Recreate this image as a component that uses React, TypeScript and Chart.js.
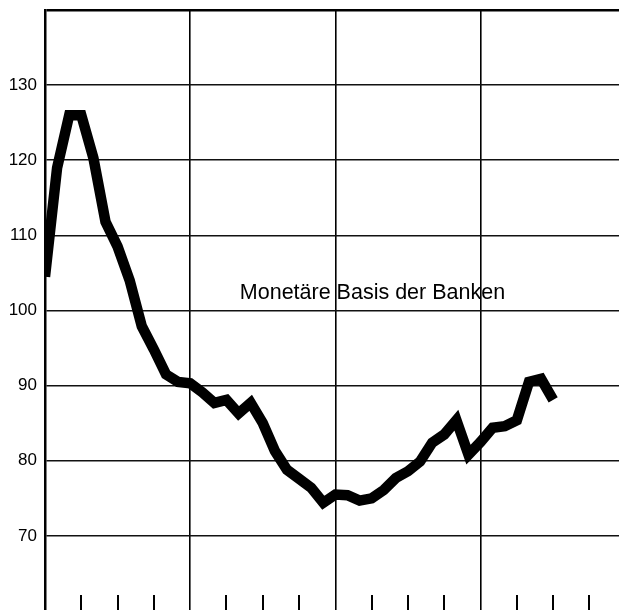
import React, { useEffect, useRef } from "react";
import { Chart, registerables } from "chart.js";

Chart.register(...registerables);

// Monthly index values (month 0 = start of first year)
const seriesValues: number[] = [
  104.5, 119.0, 126.0, 126.0, 120.3, 111.8, 108.5, 104.0, 97.9, 94.8, 91.5, 90.5,
  90.3, 89.1, 87.7, 88.1, 86.3, 87.7, 85.0, 81.3, 78.8, 77.6, 76.4, 74.4,
  75.5, 75.4, 74.7, 75.0, 76.1, 77.7, 78.6, 79.9, 82.4, 83.5, 85.4, 80.8,
  82.5, 84.4, 84.6, 85.4, 90.5, 90.9, 88.1,
];
const yTickLabels: number[] = [70, 80, 90, 100, 110, 120, 130];
const quarterTicks: number[] = [3, 6, 9, 15, 18, 21, 27, 30, 33, 39, 42, 45];
const yearLines: number[] = [12, 24, 36];
const seriesLabel = "Monetäre Basis der Banken";
const labelAt = { x: 16.1, y: 101.5 };

const X_MIN = 0;
const X_MAX = 47.44;
const Y_MIN = 60.13;
const Y_MAX = 140;

export default function App() {
  const ref = useRef<HTMLCanvasElement | null>(null);

  useEffect(() => {
    if (!ref.current) return;
    const points = seriesValues.map((v, i) => ({ x: i, y: v }));

    const extras = {
      id: "extras",
      afterDatasetsDraw(chart: any) {
        const { ctx, scales, chartArea } = chart;
        const xs = scales.x;
        const ys = scales.y;
        ctx.save();
        ctx.strokeStyle = "#000";
        ctx.lineWidth = 2;
        for (const q of quarterTicks) {
          const px = Math.round(xs.getPixelForValue(q));
          ctx.beginPath();
          ctx.moveTo(px, chartArea.bottom);
          ctx.lineTo(px, chartArea.bottom - 15);
          ctx.stroke();
        }
        ctx.fillStyle = "#000";
        ctx.font = '21.5px "Liberation Sans", Arial, sans-serif';
        ctx.textAlign = "left";
        ctx.textBaseline = "alphabetic";
        ctx.fillText(seriesLabel, xs.getPixelForValue(labelAt.x), ys.getPixelForValue(labelAt.y));
        ctx.restore();
      },
    };

    const chart = new Chart(ref.current, {
      type: "line",
      data: {
        datasets: [
          {
            label: seriesLabel,
            data: points,
            borderColor: "#000",
            borderWidth: 10.5,
            borderJoinStyle: "miter",
            borderCapStyle: "butt",
            pointRadius: 0,
            tension: 0,
            fill: false,
          },
        ],
      },
      options: {
        animation: false,
        responsive: false,
        layout: { padding: { top: 10, left: 0, right: 0, bottom: 0 } },
        plugins: { legend: { display: false }, tooltip: { enabled: false } },
        scales: {
          x: {
            type: "linear",
            min: X_MIN,
            max: X_MAX,
            afterFit: (scale: any) => {
              scale.height = 0;
              scale.paddingLeft = 0;
              scale.paddingRight = 0;
            },
            ticks: { display: false, stepSize: 3 },
            border: { display: false },
            grid: {
              drawTicks: false,
              tickLength: 0,
              color: (c: any) =>
                yearLines.includes(c.tick?.value) ? "#000" : "rgba(0,0,0,0)",
              lineWidth: 1.6,
            },
          },
          y: {
            type: "linear",
            min: Y_MIN,
            max: Y_MAX,
            afterFit: (scale: any) => {
              scale.width = 45;
              scale.paddingTop = 0;
              scale.paddingBottom = 0;
            },
            border: { display: true, color: "#000", width: 2.5 },
            ticks: {
              stepSize: 10,
              padding: 8,
              color: "#000",
              font: { family: '"Liberation Sans", Arial, sans-serif', size: 17 },
              callback: (v: any) => (yTickLabels.includes(Number(v)) ? String(v) : ""),
            },
            grid: {
              drawTicks: false,
              tickLength: 0,
              color: (c: any) => {
                const v = c.tick?.value;
                if (v === Y_MAX) return "#000";
                return yTickLabels.includes(v) ? "#111" : "rgba(0,0,0,0)";
              },
              lineWidth: (c: any) => (c.tick?.value === Y_MAX ? 2.5 : 1.5),
            },
          },
        },
      },
      plugins: [extras],
    });
    return () => chart.destroy();
  }, []);

  return (
    <div style={{ position: "fixed", left: 0, top: 0, width: 619, height: 610, background: "#fff", overflow: "hidden" }}>
      <canvas ref={ref} width={619} height={610} style={{ display: "block" }} />
    </div>
  );
}
